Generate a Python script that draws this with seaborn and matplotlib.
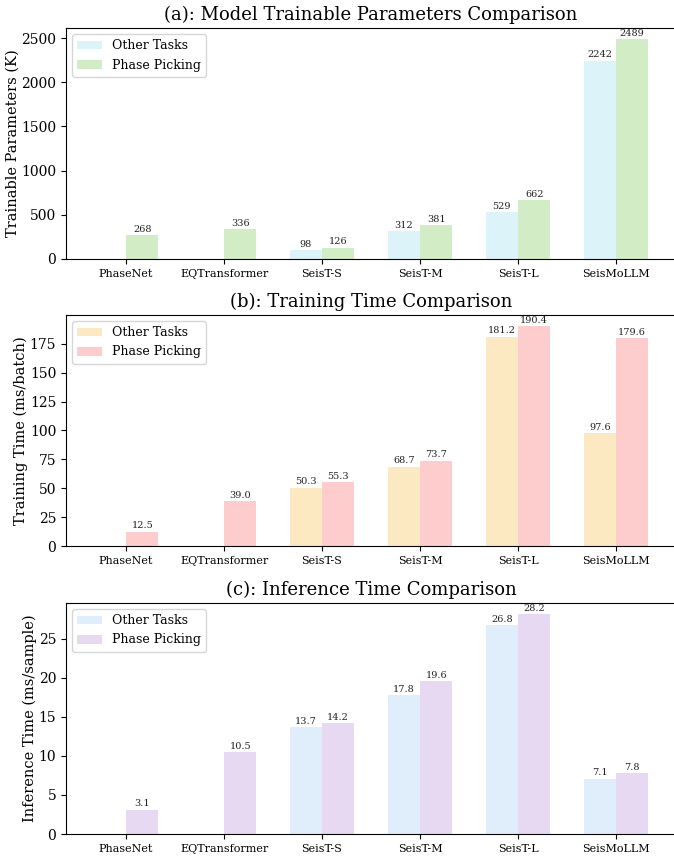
import matplotlib
matplotlib.use("Agg")
import matplotlib.pyplot as plt
import numpy as np
import pandas as pd
import seaborn as sns

plt.rcParams["font.family"] = ["DejaVu Serif"]

models = ["PhaseNet", "EQTransformer", "SeisT-S", "SeisT-M", "SeisT-L", "SeisMoLLM"]
tasks = ["Other Tasks", "Phase Picking"]

# Trainable parameters (K)
params_other = [np.nan, np.nan, 98, 312, 529, 2242]
params_phase = [268, 336, 126, 381, 662, 2489]

# Training time (ms/batch)
train_other = [np.nan, np.nan, 50.3, 68.7, 181.2, 97.6]
train_phase = [12.5, 39.0, 55.3, 73.7, 190.4, 179.6]

# Inference time (ms/sample)
infer_other = [np.nan, np.nan, 13.7, 17.8, 26.8, 7.1]
infer_phase = [3.1, 10.5, 14.2, 19.6, 28.2, 7.8]

panels = [
    ("(a): Model Trainable Parameters Comparison", "Trainable Parameters (K)",
     params_other, params_phase, ["#dcf3fa", "#d2ecc5"], "{:.0f}"),
    ("(b): Training Time Comparison", "Training Time (ms/batch)",
     train_other, train_phase, ["#fde9c1", "#fdcdcd"], "{:.1f}"),
    ("(c): Inference Time Comparison", "Inference Time (ms/sample)",
     infer_other, infer_phase, ["#dfeefa", "#e7d9f1"], "{:.1f}"),
]

fig = plt.figure(figsize=(6.74, 8.57), dpi=100)
W, H = 674, 857
left_px, width_px, height_px = 66, 610, 231
bottoms_px = [259, 546, 834]

bar_w = 0.33
n = len(models)
span = (n - 1) + 2 * bar_w
pad = 0.05 * span

for (title, ylabel, other, phase, colors, fmt), bot in zip(panels, bottoms_px):
    ax = fig.add_axes([left_px / W, 1 - bot / H, width_px / W, height_px / H])
    df = pd.DataFrame({
        "model": models * 2,
        "task": [tasks[0]] * n + [tasks[1]] * n,
        "value": list(other) + list(phase),
    }).dropna()
    sns.barplot(data=df, x="model", y="value", hue="task", order=models,
                hue_order=tasks, palette=colors, width=2 * bar_w,
                saturation=1, errorbar=None, ax=ax)
    for cont in ax.containers:
        labels = [fmt.format(b.get_height()) if np.isfinite(b.get_height()) and b.get_height() > 0 else ""
                  for b in cont]
        ax.bar_label(cont, labels=labels, fontsize=7, padding=1, color="#222222")
    ax.set_xlim(-bar_w - pad, (n - 1) + bar_w + pad)
    ax.set_ylim(0, np.nanmax(phase + other) * 1.05)
    ax.spines["right"].set_visible(False)
    ax.set_title(title, fontsize=13)
    ax.set_ylabel(ylabel, fontsize=10.5, labelpad=1)
    ax.set_xlabel("")
    ax.tick_params(axis="x", labelsize=8)
    ax.tick_params(axis="y", labelsize=10)
    ax.legend(loc="upper left", fontsize=9, title=None)

fig.savefig("out.png", dpi=100)
